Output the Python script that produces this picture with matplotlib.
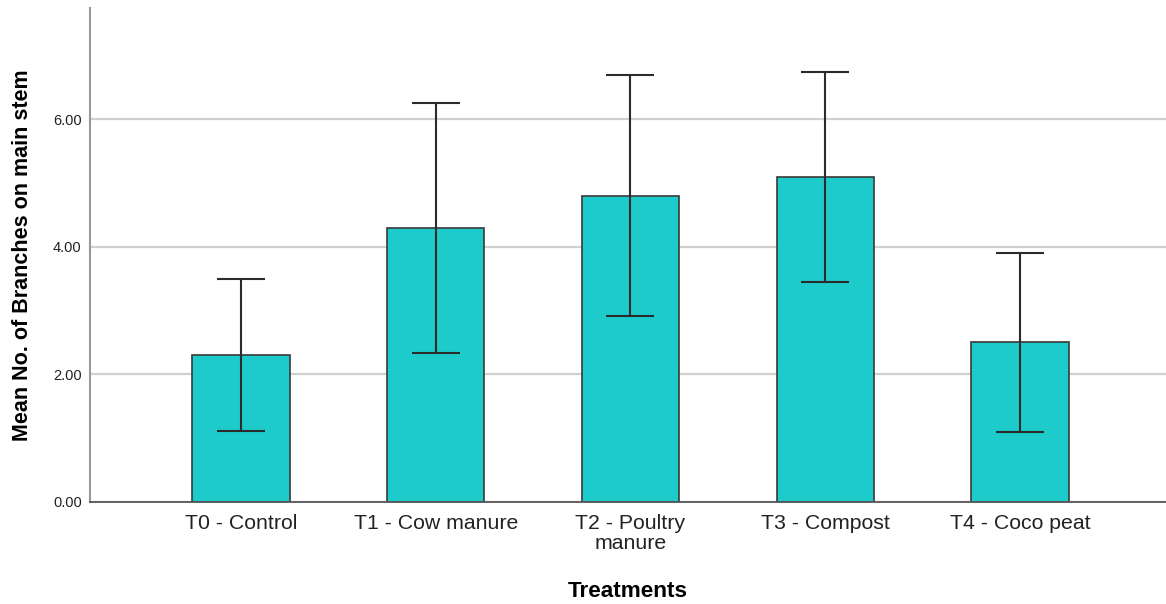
import numpy as np
import matplotlib
matplotlib.use('Agg')
import matplotlib.pyplot as plt

plt.rcParams['font.family'] = ['Liberation Sans', 'DejaVu Sans']

treatments = ['T0 - Control', 'T1 - Cow manure', 'T2 - Poultry\nmanure',
              'T3 - Compost', 'T4 - Coco peat']
means = [2.30, 4.30, 4.80, 5.10, 2.50]
errors = [1.19, 1.96, 1.89, 1.65, 1.41]
yticks = [0, 2, 4, 6]

fig = plt.figure(figsize=(11.66, 6.04), dpi=100)
ax = fig.add_axes([0.0772, 0.1694, 0.9228, 0.8174])

x = np.arange(len(treatments))
ax.bar(x, means, width=0.5, color='#1dcbcb', edgecolor='#3a3a3a',
       linewidth=1.2, zorder=2)
ax.errorbar(x, means, yerr=errors, fmt='none', ecolor='#2b2b2b',
            elinewidth=1.5, capsize=17.5, capthick=1.5, zorder=3)

ax.set_xlim(-0.775, 4.75)
ax.set_ylim(0, 7.75)
ax.set_yticks(yticks)
ax.set_yticklabels([f'{v:.2f}' for v in yticks], fontsize=10.5, color='#222222')
ax.set_xticks(x)
ax.set_xticklabels(treatments, fontsize=15.3, color='#222222', linespacing=1.05)
ax.tick_params(length=0, pad=6)
ax.tick_params(axis='x', pad=9)

ax.yaxis.grid(True, color='#d0d0d0', linewidth=1.6, zorder=0)
ax.set_axisbelow(True)
for s in ['top', 'right']:
    ax.spines[s].set_visible(False)
ax.spines['left'].set_color('#999999')
ax.spines['left'].set_linewidth(1.5)
ax.spines['bottom'].set_color('#555555')
ax.spines['bottom'].set_linewidth(1.3)

ax.set_xlabel('Treatments', fontsize=16.2, fontweight='bold', labelpad=20)
ax.set_ylabel('Mean No. of Branches on main stem', fontsize=15.5,
              fontweight='bold', labelpad=14)

fig.savefig('out.png', dpi=100)
